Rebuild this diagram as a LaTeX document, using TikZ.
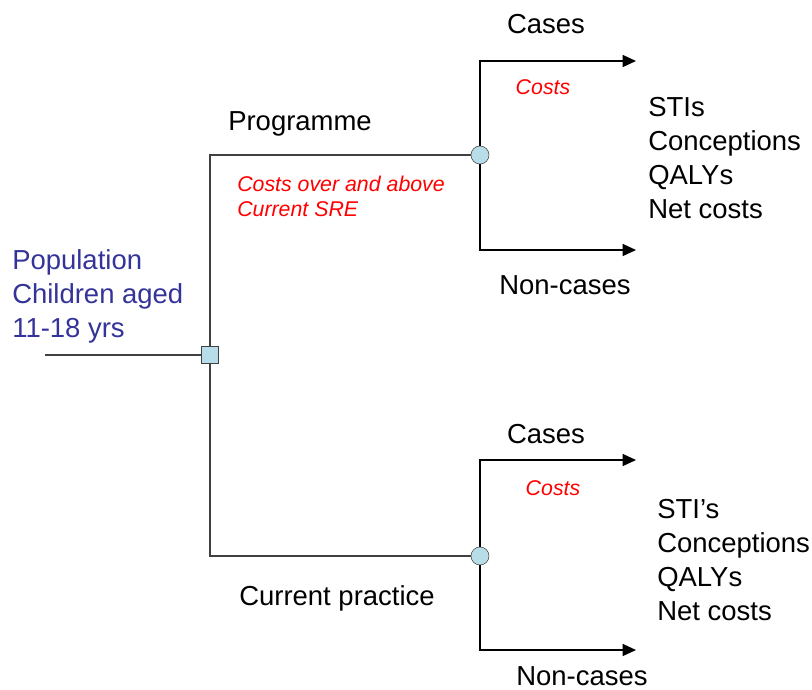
\documentclass[tikz,border=0pt]{standalone}
\usepackage{fontspec}
\setmainfont{Liberation Sans}
\usetikzlibrary{shapes.geometric, arrows.meta, positioning}
\definecolor{nodefill}{HTML}{B7DEE8}
\definecolor{poptext}{HTML}{333399}
\tikzstyle{decision} = [rectangle, draw=black!75, fill=nodefill, minimum size=13pt, inner sep=0pt]
\tikzstyle{chance} = [circle, draw=black!75, fill=nodefill, minimum size=13.5pt, inner sep=0pt]
\tikzstyle{branch} = [black!75, line width=0.8pt]
\tikzstyle{outcome} = [black, line width=1pt, -{Triangle[length=10pt, width=9pt]}]
\tikzstyle{bigtext} = [font=\fontsize{20.6}{25.5}\selectfont, inner sep=0pt]
\tikzstyle{costnote} = [text=red, font=\fontsize{16}{18.75}\selectfont\itshape, inner sep=0pt]

\begin{document}
\begin{tikzpicture}[x=0.75pt, y=-0.75pt]

    \useasboundingbox (0,0) rectangle (812,689);

    % decision and chance nodes
    \node (dec) [decision] at (210,355) {};
    \node (progchance) [chance] at (480,155) {};
    \node (currchance) [chance] at (480,556) {};

    % free ends
    \coordinate (start) at (45,355);
    \coordinate (progcasesend) at (636,61);
    \coordinate (prognonend) at (636,250);
    \coordinate (currcasesend) at (636,460);
    \coordinate (currnonend) at (636,650);

    \draw [branch] (start) -- (dec);
    \draw [branch] (dec) |- (progchance);
    \draw [branch] (dec) |- (currchance);

    \draw [outcome] (progchance) |- (progcasesend);
    \draw [outcome] (progchance) |- (prognonend);
    \draw [outcome] (currchance) |- (currcasesend);
    \draw [outcome] (currchance) |- (currnonend);

    % population
    \node (pop) [bigtext, text=poptext, align=left, anchor=north west] at (12,249)
        {Population\\Children aged\\11-18 yrs};

    % programme arm
    \node (progcases) [bigtext, anchor=base] at (546,33) {Cases};
    \node (progcost) [costnote, anchor=base] at (543,94) {Costs};
    \node (progname) [bigtext, anchor=base] at (300,130) {Programme};
    \node (progextra) [costnote, align=left, anchor=north west] at (237,176)
        {Costs over and above\\Current SRE};
    \node (progout) [bigtext, align=left, anchor=north west] at (648,97)
        {STIs\\Conceptions\\QALYs\\Net costs};
    \node (prognon) [bigtext, anchor=base] at (565,294) {Non-cases};

    % current practice arm
    \node (currcases) [bigtext, anchor=base] at (546,443) {Cases};
    \node (currcost) [costnote, anchor=base] at (553,495) {Costs};
    \node (currname) [bigtext, anchor=base] at (337,605) {Current practice};
    \node (currout) [bigtext, align=left, anchor=north west] at (657,499)
        {STI’s\\Conceptions\\QALYs\\Net costs};
    \node (currnon) [bigtext, anchor=base] at (582,685) {Non-cases};

\end{tikzpicture}
\end{document}
